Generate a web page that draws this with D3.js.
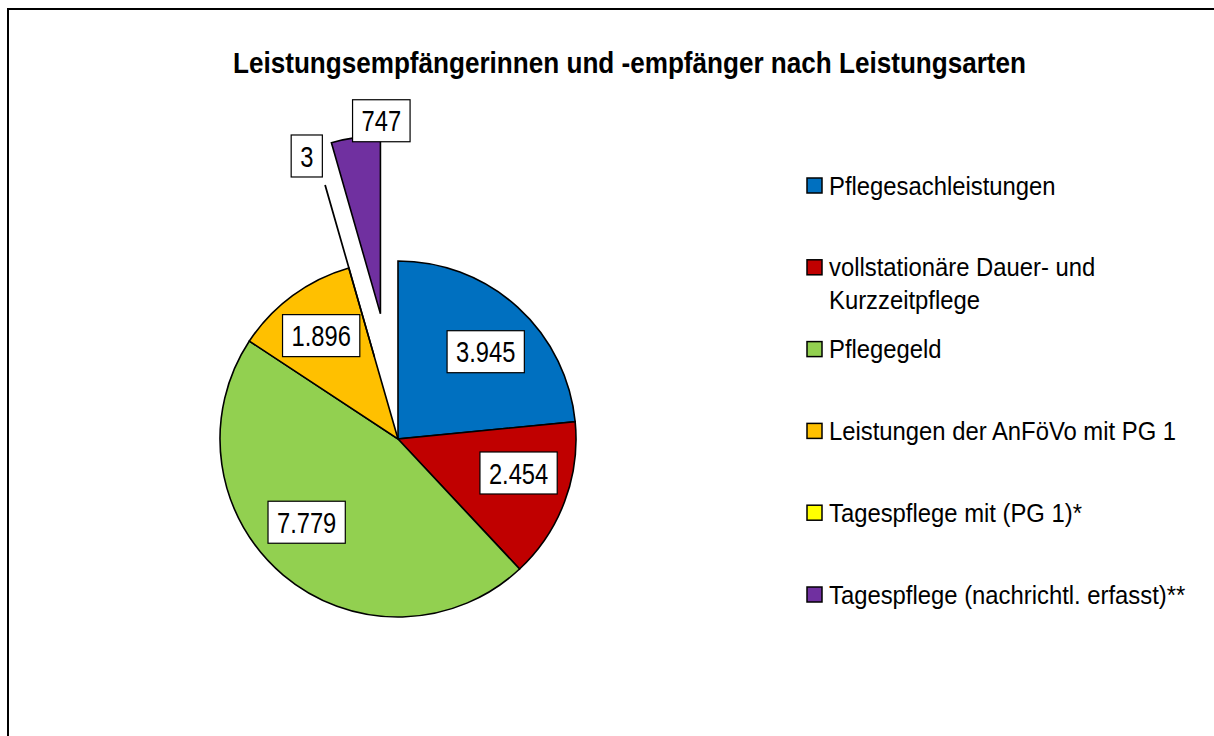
<!DOCTYPE html>
<html>
<head>
<meta charset="utf-8">
<script src="https://cdn.jsdelivr.net/npm/d3@7"></script>
<style>
  html, body { margin: 0; padding: 0; background: #fff; overflow: hidden; }
  svg { display: block; }
  text { font-family: "Liberation Sans", Arial, sans-serif; fill: #000; }
</style>
</head>
<body>
<svg id="chart" width="1214" height="736"></svg>
<script>
// ---- data ----
const title = "Leistungsempfängerinnen und -empfänger nach Leistungsarten";
const categories = [
  "Pflegesachleistungen",
  "vollstationäre Dauer- und Kurzzeitpflege",
  "Pflegegeld",
  "Leistungen der AnFöVo mit PG 1",
  "Tagespflege mit (PG 1)*",
  "Tagespflege (nachrichtl. erfasst)**"
];
const legendLines = [
  ["Pflegesachleistungen"],
  ["vollstationäre Dauer- und", "Kurzzeitpflege"],
  ["Pflegegeld"],
  ["Leistungen der AnFöVo mit PG 1"],
  ["Tagespflege mit (PG 1)*"],
  ["Tagespflege (nachrichtl. erfasst)**"]
];
const values = [3945, 2454, 7779, 1896, 3, 747];

// ---- styles / layout ----
const colors = ["#0070C0", "#C00000", "#92D050", "#FFC000", "#FFFF00", "#7030A0"];
const explode = [0, 0, 0, 0, 0.48, 0.71];      // fraction of radius
const labelNudge = [[4, 5], [4, -10], [-11, -12], [-3, -3], [-10, 0], [28, 0]];
const outsideGap = { 4: 31, 5: 17 };

const svg = d3.select("#chart");
const W = 1214, H = 736;

// outer frame (only top & left edges are inside the picture)
svg.append("path")
  .attr("d", `M8,${H + 10} L8,9 L${W + 10},9`)
  .attr("fill", "none").attr("stroke", "#000").attr("stroke-width", 2);

// title
svg.append("text")
  .attr("transform", "translate(629.5,73) scale(0.87,1)")
  .attr("text-anchor", "middle")
  .attr("font-size", 30).attr("font-weight", "bold")
  .text(title);

const de = d3.formatLocale({ decimal: ",", thousands: ".", grouping: [3], currency: ["", " €"] });
const fmt = de.format(",d");

const cx = 398, cy = 439, r = 178;
const pie = d3.pie().sort(null).value(d => d).startAngle(0).endAngle(2 * Math.PI);
const arcs = pie(values);
const arc = d3.arc().innerRadius(0).outerRadius(r);

const g = svg.append("g").attr("transform", `translate(${cx},${cy})`);

function offsetOf(d, i) {
  const a = (d.startAngle + d.endAngle) / 2;
  const off = explode[i] * r;
  return [off * Math.sin(a), -off * Math.cos(a)];
}

g.selectAll("path.slice")
  .data(arcs)
  .join("path")
  .attr("class", "slice")
  .attr("transform", (d, i) => { const o = offsetOf(d, i); return `translate(${o[0]},${o[1]})`; })
  .attr("d", arc)
  .attr("fill", (d, i) => colors[i])
  .attr("stroke", "#000")
  .attr("stroke-width", 1.6)
  .attr("stroke-linejoin", "miter");

// data labels
const labelFont = 30, labelScale = 0.79, pad = 9, boxH = 42;
const lab = g.selectAll("g.lab")
  .data(arcs)
  .join("g")
  .attr("class", "lab")
  .attr("transform", (d, i) => {
    const a = (d.startAngle + d.endAngle) / 2;
    let dist;
    if (explode[i] > 0) dist = r * (1 + explode[i]) + outsideGap[i];
    else dist = 0.7 * r;
    const x = dist * Math.sin(a) + labelNudge[i][0];
    const y = -dist * Math.cos(a) + labelNudge[i][1];
    return `translate(${x},${y})`;
  });

lab.each(function(d, i) {
  const sel = d3.select(this);
  const rect = sel.append("rect").attr("fill", "#fff").attr("stroke", "#000").attr("stroke-width", 1.2);
  const t = sel.append("text")
    .attr("transform", `translate(0,${labelFont * 0.358}) scale(${labelScale},1)`)
    .attr("text-anchor", "middle")
    .attr("font-size", labelFont)
    .text(fmt(d.data));
  const w = t.node().getComputedTextLength() * labelScale + 2 * pad;
  rect.attr("x", -w / 2).attr("y", -boxH / 2).attr("width", w).attr("height", boxH);
});

// legend
const legX = 807, legY0 = 178, legStep = 81.8, sq = 15, legFont = 26.5, legScale = 0.9, lineH = 33;
const leg = svg.append("g").selectAll("g")
  .data(categories)
  .join("g")
  .attr("transform", (d, i) => `translate(${legX},${legY0 + i * legStep})`);
leg.append("rect")
  .attr("width", sq).attr("height", sq)
  .attr("fill", (d, i) => colors[i])
  .attr("stroke", "#000").attr("stroke-width", 1.5);
leg.each(function(d, i) {
  const sel = d3.select(this);
  legendLines[i].forEach((line, j) => {
    sel.append("text")
      .attr("transform", `translate(22,${16.5 + j * lineH}) scale(${legScale},1)`)
      .attr("font-size", legFont)
      .text(line);
  });
});
</script>
</body>
</html>
